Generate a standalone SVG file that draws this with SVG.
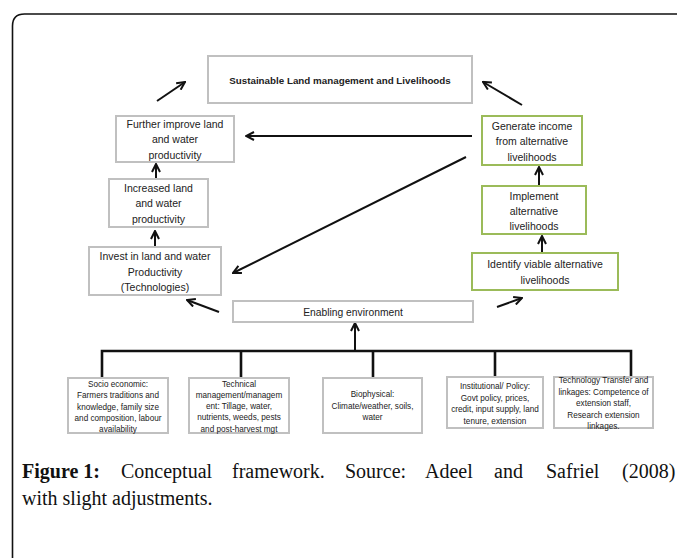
<svg xmlns="http://www.w3.org/2000/svg" width="677" height="558" viewBox="0 0 677 558">
<defs>
<style>
.box{fill:#fff;stroke:#c0c0c0;stroke-width:2}
.gbox{fill:#fff;stroke:#9bbb59;stroke-width:2}
.t{font-family:"Liberation Sans",Arial,sans-serif;font-size:10.5px;fill:#222;text-anchor:middle}
.s{font-family:"Liberation Sans",Arial,sans-serif;font-size:8.2px;fill:#222;text-anchor:middle}
.con{stroke:#111;stroke-width:2;fill:none}
.bus{stroke:#111;stroke-width:2.6;fill:none}
.cap{font-family:"Liberation Serif","Times New Roman",serif;font-size:20px;fill:#111}
</style>
<marker id="ah" viewBox="0 0 10 10" refX="9" refY="5" markerWidth="10" markerHeight="10" markerUnits="userSpaceOnUse" orient="auto">
<path d="M1,1 L9,5 L1,9" fill="none" stroke="#111" stroke-width="2"/>
</marker>
</defs>
<rect width="677" height="558" fill="#fff"/>
<path d="M12.5,558 L12.5,26 Q12.5,14 24.5,14 L677,14" fill="none" stroke="#111" stroke-width="1.6"/>

<g id="connectors">
<line class="con" x1="157" y1="101" x2="185" y2="82" marker-end="url(#ah)"/>
<line class="con" x1="522" y1="105" x2="483" y2="82" marker-end="url(#ah)"/>
<line class="con" x1="472" y1="136" x2="246" y2="136" marker-end="url(#ah)"/>
<line class="con" x1="466" y1="157" x2="233" y2="273" marker-end="url(#ah)"/>
<line class="con" x1="156" y1="178" x2="156" y2="164" marker-end="url(#ah)"/>
<line class="con" x1="155" y1="247" x2="155" y2="231" marker-end="url(#ah)"/>
<line class="con" x1="539" y1="185" x2="539" y2="167" marker-end="url(#ah)"/>
<line class="con" x1="542" y1="253" x2="542" y2="236" marker-end="url(#ah)"/>
<line class="con" x1="219" y1="312" x2="187" y2="300" marker-end="url(#ah)"/>
<line class="con" x1="497" y1="307" x2="522" y2="298" marker-end="url(#ah)"/>
<line class="con" x1="355" y1="351" x2="355" y2="323" marker-end="url(#ah)"/>
<path class="bus" d="M102,378 V351 H631 V377 M241,351 V378 M373,351 V378 M495,351 V377"/>
</g>

<g id="slm">
<rect class="box" x="208" y="56" width="264" height="47"/>
<text class="t" x="340" y="83.5" style="font-weight:bold;font-size:9.8px">Sustainable Land management and Livelihoods</text>
</g>
<g id="further">
<rect class="box" x="116" y="116" width="118" height="46"/>
<text class="t" x="175" y="127.7">Further improve land</text>
<text class="t" x="175" y="143.2">and water</text>
<text class="t" x="175" y="158.7">productivity</text>
</g>
<g id="increased">
<rect class="box" x="109" y="179" width="99" height="48"/>
<text class="t" x="158.5" y="191.7">Increased land</text>
<text class="t" x="158.5" y="207">and water</text>
<text class="t" x="158.5" y="222.7">productivity</text>
</g>
<g id="invest">
<rect class="box" x="89" y="247" width="132" height="48"/>
<text class="t" x="155" y="259.7">Invest in land and water</text>
<text class="t" x="155" y="275.7">Productivity</text>
<text class="t" x="155" y="290.7">(Technologies)</text>
</g>
<g id="generate">
<rect class="gbox" x="482" y="116" width="100" height="49"/>
<text class="t" x="532" y="129.7">Generate income</text>
<text class="t" x="532" y="144.7">from alternative</text>
<text class="t" x="532" y="160.7">livelihoods</text>
</g>
<g id="implement">
<rect class="gbox" x="482" y="186" width="104" height="48"/>
<text class="t" x="534" y="199.7">Implement</text>
<text class="t" x="534" y="214.7">alternative</text>
<text class="t" x="534" y="229.7">livelihoods</text>
</g>
<g id="identify">
<rect class="gbox" x="472" y="253" width="146" height="37"/>
<text class="t" x="545" y="267.7">Identify viable alternative</text>
<text class="t" x="545" y="283.7">livelihoods</text>
</g>
<g id="enabling">
<rect class="box" x="233" y="301" width="240" height="21"/>
<text class="t" x="353" y="315.5" style="font-size:10.3px">Enabling environment</text>
</g>
<g id="socio">
<rect class="box" x="68" y="378" width="100" height="55"/>
<text class="s" x="118" y="387">Socio economic:</text>
<text class="s" x="118" y="398.3">Farmers traditions and</text>
<text class="s" x="118" y="409.6">knowledge, family size</text>
<text class="s" x="118" y="420.9">and composition, labour</text>
<text class="s" x="118" y="432.2">availability</text>
</g>
<g id="technical">
<rect class="box" x="189" y="378" width="100" height="55"/>
<text class="s" x="239" y="386.5">Technical</text>
<text class="s" x="239" y="397.8">management/managem</text>
<text class="s" x="239" y="409.1">ent: Tillage, water,</text>
<text class="s" x="239" y="420.4">nutrients, weeds, pests</text>
<text class="s" x="239" y="431.7">and post-harvest mgt</text>
</g>
<g id="biophysical">
<rect class="box" x="323" y="378" width="99" height="55"/>
<text class="s" x="372.5" y="397">Biophysical:</text>
<text class="s" x="372.5" y="408.5">Climate/weather, soils,</text>
<text class="s" x="372.5" y="420">water</text>
</g>
<g id="institutional">
<rect class="box" x="447" y="377" width="96" height="51"/>
<text class="s" x="495" y="389">Institutional/ Policy:</text>
<text class="s" x="495" y="400.5">Govt policy, prices,</text>
<text class="s" x="495" y="412">credit, input supply, land</text>
<text class="s" x="495" y="423.5">tenure, extension</text>
</g>
<g id="transfer">
<rect class="box" x="554" y="377" width="99" height="51"/>
<text class="s" x="603.5" y="383">Technology Transfer and</text>
<text class="s" x="603.5" y="394.5">linkages: Competence of</text>
<text class="s" x="603.5" y="406">extension staff,</text>
<text class="s" x="603.5" y="417.5">Research extension</text>
<text class="s" x="603.5" y="429">linkages.</text>
</g>

<g id="caption">
<text class="cap" y="478"><tspan x="22" font-weight="bold">Figure 1:</tspan><tspan x="121">Conceptual</tspan><tspan x="232">framework.</tspan><tspan x="345">Source:</tspan><tspan x="425">Adeel</tspan><tspan x="494">and</tspan><tspan x="546">Safriel</tspan><tspan x="622">(2008)</tspan></text>
<text class="cap" x="22" y="505">with slight adjustments.</text>
</g>
</svg>
